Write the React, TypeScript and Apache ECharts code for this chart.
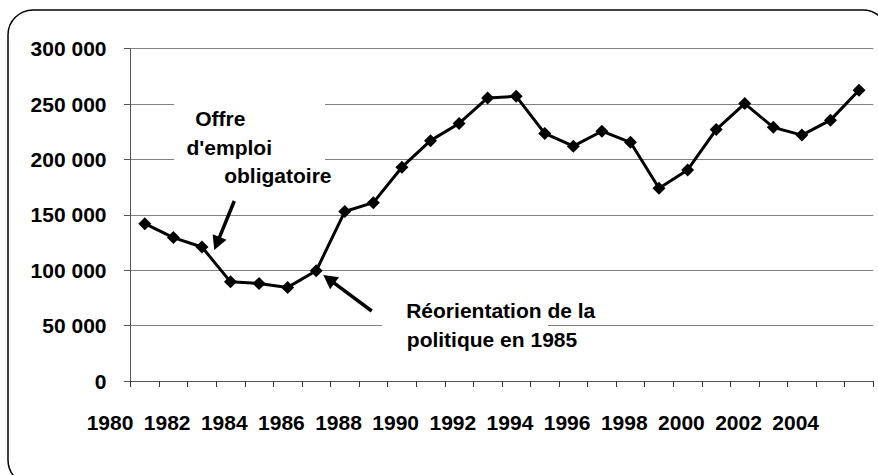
import React, { useEffect, useRef } from "react";
import * as echarts from "echarts";

const years = [
  "1981", "1982", "1983", "1984", "1985", "1986", "1987", "1988", "1989", "1990",
  "1991", "1992", "1993", "1994", "1995", "1996", "1997", "1998", "1999", "2000",
  "2001", "2002", "2003", "2004", "2005", "2006",
];
const values = [
  142000, 129500, 121000, 89500, 88000, 84500, 99500, 153000, 161000, 193000,
  217000, 232500, 255500, 257000, 223500, 212000, 225500, 215500, 174000, 190500,
  227000, 250500, 229000, 222000, 235500, 262500,
];
const xLabelYears = [1980, 1982, 1984, 1986, 1988, 1990, 1992, 1994, 1996, 1998, 2000, 2002, 2004];
const yTickLabels = ["0", "50 000", "100 000", "150 000", "200 000", "250 000", "300 000"];

const note1 = ["Offre", "d'emploi", "obligatoire"];
const note2 = ["Réorientation de la", "politique en 1985"];

const FONT = "'Liberation Sans', Arial, Helvetica, sans-serif";
const FS = 21;

function arrow(x1: number, y1: number, x2: number, y2: number) {
  const dx = x2 - x1, dy = y2 - y1;
  const L = Math.hypot(dx, dy);
  const ux = dx / L, uy = dy / L;
  const hl = 14, hw = 7.5;
  const bx = x2 - ux * hl, by = y2 - uy * hl;
  return [
    {
      type: "line",
      z: 20,
      shape: { x1, y1, x2: bx + ux * 2, y2: by + uy * 2 },
      style: { stroke: "#000", lineWidth: 3.5 },
    },
    {
      type: "polygon",
      z: 20,
      shape: {
        points: [
          [x2, y2],
          [bx - uy * hw, by + ux * hw],
          [bx + uy * hw, by - ux * hw],
        ],
      },
      style: { fill: "#000" },
    },
  ];
}

function txt(s: string, x: number, baseline: number) {
  return {
    type: "text",
    z: 20,
    x,
    y: baseline - FS * 0.36,
    style: {
      text: s,
      fill: "#000",
      font: `bold ${FS}px ${FONT}`,
      align: "left",
      verticalAlign: "middle",
    },
  };
}

export default function App() {
  const ref = useRef<HTMLDivElement>(null);
  useEffect(() => {
    if (!ref.current) return;
    const chart = echarts.init(ref.current, null, { renderer: "svg" });
    chart.setOption({
      animation: false,
      backgroundColor: "#fff",
      textStyle: { fontFamily: FONT },
      grid: { left: 130.5, right: 4.7, top: 48.7, bottom: 94, containLabel: false, outerBoundsMode: "none" },
      xAxis: [
        {
          type: "category",
          position: "bottom",
          data: years,
          boundaryGap: true,
          axisLine: { show: true, lineStyle: { color: "#555", width: 1 } },
          axisTick: { show: true, interval: 0, length: 6, lineStyle: { color: "#333" } },
          axisLabel: { show: false },
          splitLine: { show: false },
        },
        {
          type: "value",
          position: "bottom",
          min: 1979.9,
          max: 2005.9,
          axisLine: { show: false },
          axisTick: { show: false },
          splitLine: { show: false },
          axisLabel: {
            show: true,
            customValues: xLabelYears,
            formatter: (v: number) => String(v),
            align: "right",
            margin: 31,
            color: "#000",
            fontWeight: "bold",
            fontSize: FS,
            fontFamily: FONT,
          },
        },
      ],
      yAxis: {
        type: "value",
        min: 0,
        max: 300000,
        interval: 50000,
        axisLine: { show: true, lineStyle: { color: "#555", width: 1 } },
        axisTick: { show: true, length: 6.5, lineStyle: { color: "#555" } },
        splitLine: { show: true, lineStyle: { color: "#808080", width: 1.2 } },
        axisLabel: {
          formatter: (v: number) => yTickLabels[Math.round(v / 50000)] ?? "",
          margin: 24,
          color: "#000",
          fontWeight: "bold",
          fontSize: FS,
          fontFamily: FONT,
        },
      },
      series: [
        {
          type: "line",
          xAxisIndex: 0,
          yAxisIndex: 0,
          data: values,
          symbol: "diamond",
          symbolSize: 13,
          lineStyle: { color: "#000", width: 3 },
          itemStyle: { color: "#000" },
          z: 3,
        },
      ],
      graphic: [
        {
          type: "rect",
          z: 30,
          shape: { x: 8, y: 10, width: 880, height: 475, r: 25 },
          style: { fill: "none", stroke: "#000", lineWidth: 1.5 },
        },
        { type: "rect", z: 10, shape: { x: 174, y: 92, width: 151, height: 72 }, style: { fill: "#fff" } },
        { type: "rect", z: 10, shape: { x: 382, y: 292, width: 166, height: 64 }, style: { fill: "#fff" } },
        txt(note1[0], 195.2, 126),
        txt(note1[1], 186.5, 155),
        txt(note1[2], 224.2, 183.3),
        txt(note2[0], 406.2, 318.3),
        txt(note2[1], 406.8, 347),
        ...arrow(234.3, 201, 214.3, 250),
        ...arrow(371.7, 311, 323.3, 275),
      ],
    });
    return () => chart.dispose();
  }, []);
  return (
    <div
      ref={ref}
      style={{ position: "fixed", left: 0, top: 0, width: 878, height: 475, background: "#fff" }}
    />
  );
}
